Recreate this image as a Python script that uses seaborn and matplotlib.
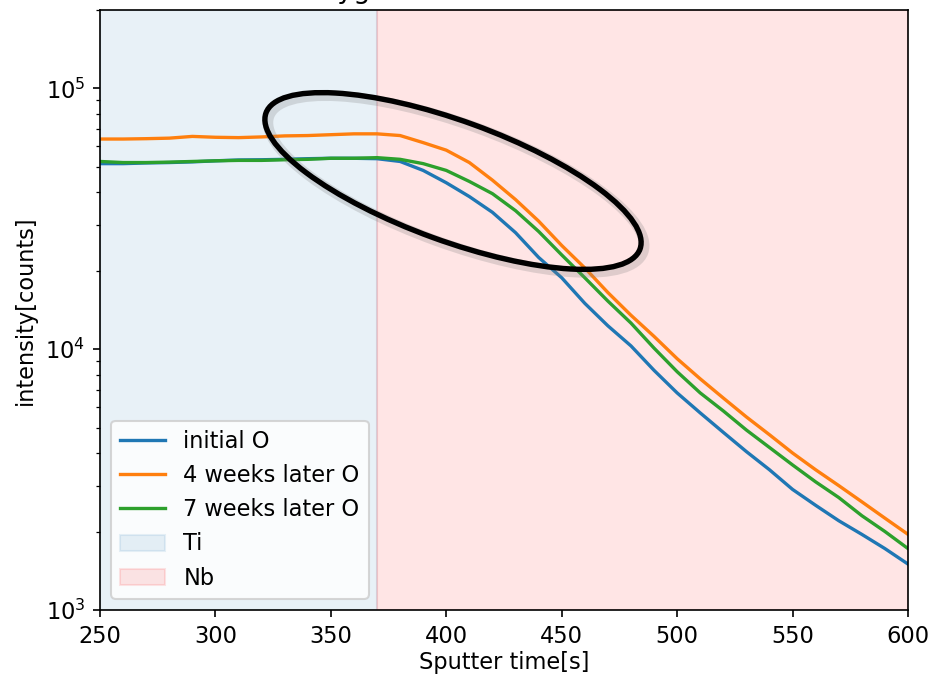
import matplotlib
matplotlib.use("Agg")
import matplotlib.pyplot as plt
import matplotlib.patheffects as pe
from matplotlib.patches import Ellipse
from matplotlib.transforms import IdentityTransform
import numpy as np
import pandas as pd
import seaborn as sns

# ---- data ----
time_s = [250, 260, 270, 280, 290, 300, 310, 320, 330, 340, 350, 360, 370,
          380, 390, 400, 410, 420, 430, 440, 450, 460, 470, 480, 490, 500,
          510, 520, 530, 540, 550, 560, 570, 580, 590, 600]

initial_O = [51.5, 51.5, 51.8, 52.0, 52.3, 52.8, 53.2, 53.3, 53.5, 53.8, 54.0, 54.0, 53.8,
             52.5, 48.5, 43.5, 38.5, 33.5, 28.0, 22.5, 18.8, 15.0, 12.3, 10.3, 8.3, 6.8,
             5.7, 4.8, 4.05, 3.45, 2.9, 2.52, 2.2, 1.95, 1.72, 1.5]
weeks4_O = [64.0, 64.0, 64.2, 64.5, 65.5, 65.0, 64.8, 65.2, 65.8, 66.0, 66.5, 67.0, 67.0,
            66.0, 62.0, 58.0, 52.0, 44.5, 37.5, 31.0, 25.0, 20.5, 16.5, 13.5, 11.2, 9.2,
            7.7, 6.5, 5.5, 4.7, 4.0, 3.45, 3.0, 2.6, 2.25, 1.95]
weeks7_O = [52.5, 52.0, 52.0, 52.2, 52.5, 52.8, 53.0, 53.0, 53.3, 53.5, 54.0, 54.0, 54.3,
            53.5, 51.5, 48.5, 44.0, 39.5, 34.0, 28.3, 23.0, 18.8, 15.3, 12.6, 10.1, 8.2,
            6.8, 5.8, 4.9, 4.2, 3.6, 3.1, 2.7, 2.3, 2.0, 1.72]

series_labels = ["initial O", "4 weeks later O", "7 weeks later O"]
series_values = [initial_O, weeks4_O, weeks7_O]
series_colors = ["#1f77b4", "#ff7f0e", "#2ca02c"]

regions = ["Ti", "Nb"]
region_bounds = [(250, 370), (370, 600)]
region_colors = ["#1f77b4", "red"]

title = "Oxygen evolution in Ti and Nb"

# ---- figure ----
plt.rcParams["font.size"] = 10.8
W, H, DPI = 931, 677, 150
fig = plt.figure(figsize=(W / DPI, H / DPI), dpi=DPI)
ax = fig.add_axes([100 / W, (H - 610) / H, 808 / W, 600 / H])

for lab, vals, col in zip(series_labels, series_values, series_colors):
    df = pd.DataFrame({"t": time_s, "v": np.array(vals) * 1000.0})
    sns.lineplot(data=df, x="t", y="v", ax=ax, color=col, label=lab, linewidth=1.6)

for reg, (a, b), col in zip(regions, region_bounds, region_colors):
    ax.axvspan(a, b, color=col, alpha=0.1, label=reg, zorder=0)

ax.set_yscale("log")
ax.set_xlim(250, 600)
ax.set_ylim(1e3, 2e5)
ax.set_xlabel("Sputter time[s]", labelpad=1.5)
ax.set_ylabel("intensity[counts]")
ax.set_title(title)
ax.legend(loc="lower left")

# annotation ellipse (display pixel coordinates)
ell = Ellipse((453, H - 181), 398, 120, angle=-20, fill=False, edgecolor="black",
              linewidth=2.6, transform=IdentityTransform(), zorder=10,
              path_effects=[pe.SimpleLineShadow(offset=(1.5, -1.5), shadow_color="gray",
                                                alpha=0.25, linewidth=5),
                            pe.Normal()])
fig.patches.append(ell)
ell.set_figure(fig)

fig.savefig("out.png", dpi=DPI)
